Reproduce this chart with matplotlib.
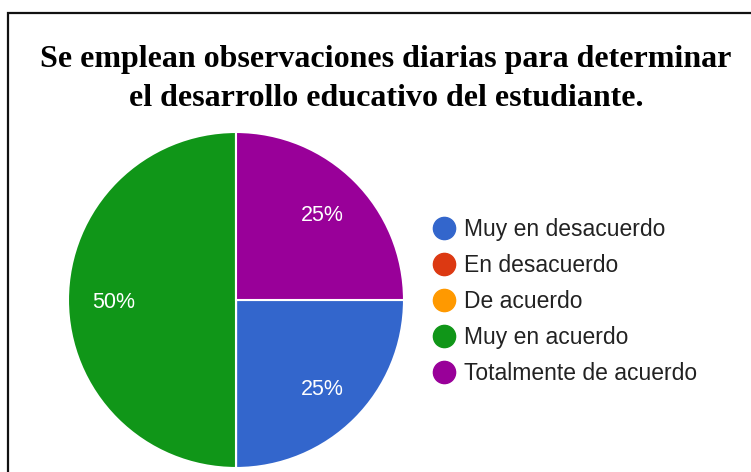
import matplotlib.pyplot as plt
from matplotlib.lines import Line2D
from matplotlib.patches import Rectangle

categorias = ["Muy en desacuerdo", "En desacuerdo", "De acuerdo",
              "Muy en acuerdo", "Totalmente de acuerdo"]
porcentajes = [25, 0, 0, 50, 25]
colores = ["#3366cc", "#dc3912", "#ff9900", "#109618", "#990099"]
titulo = ("Se emplean observaciones diarias para determinar\n"
          "el desarrollo educativo del estudiante.")

fig = plt.figure(figsize=(7.51, 4.72), dpi=100)

# marco del recuadro (sin borde derecho ni inferior visibles)
fig.add_artist(Rectangle((8 / 751, -0.1), 1.0, 1 - 13 / 472 + 0.1,
                         transform=fig.transFigure, fill=False,
                         edgecolor="#111111", linewidth=1.6))

fig.text(386 / 751, 1 - 79 / 472, titulo, ha="center", va="center",
         family="Liberation Serif", fontweight="bold", fontsize=23,
         linespacing=1.5, color="black")

ax = fig.add_axes([68 / 751, 4 / 472, 336 / 751, 336 / 472])


def etiqueta(p):
    return "" if p < 0.5 else "%d%%" % round(p)


wedges, textos, autotextos = ax.pie(
    porcentajes, colors=colores, startangle=0, counterclock=False,
    autopct=etiqueta, pctdistance=0.73,
    wedgeprops=dict(edgecolor="white", linewidth=1.5),
    textprops=dict(color="white", fontsize=15.5, family="Liberation Sans"))
for t in autotextos:
    t.set_va("center_baseline")
ax.set_xlim(-1, 1)
ax.set_ylim(-1, 1)
ax.set_aspect("equal")

handles = [Line2D([], [], marker="o", linestyle="", markersize=16,
                  markerfacecolor=c, markeredgecolor=c) for c in colores]
fig.legend(handles, categorias, loc="center left",
           bbox_to_anchor=(422 / 751, 1 - 301.5 / 472), frameon=False,
           prop=dict(family="Liberation Sans", size=16.5),
           labelcolor="#222222", handlelength=0.9, handletextpad=0.42,
           labelspacing=0.56, borderpad=0)

fig.savefig("out.png", dpi=100)
